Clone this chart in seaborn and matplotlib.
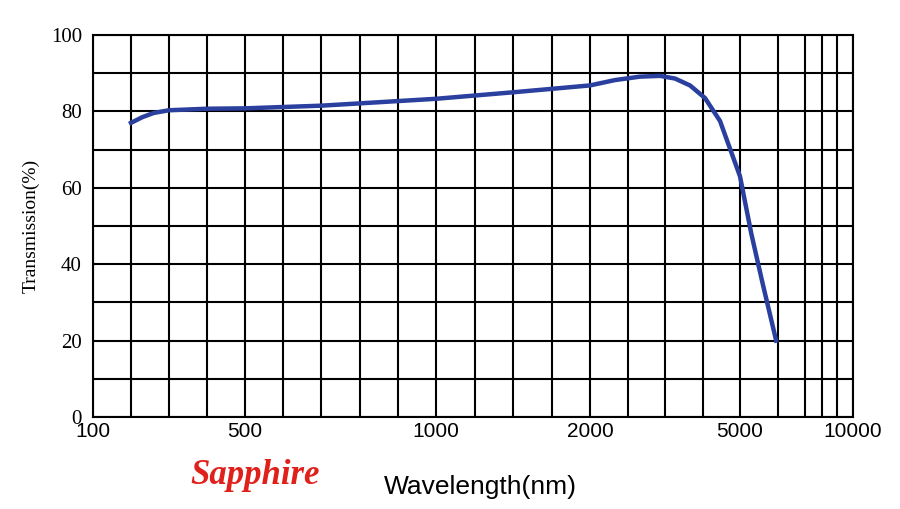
import numpy as np
import matplotlib
matplotlib.use("Agg")
import matplotlib.pyplot as plt
import seaborn as sns
import pandas as pd

# curve
wavelength = [200, 230, 260, 300, 400, 500, 700, 1000, 1500, 2000, 2500, 3000, 3400, 3700, 4000, 4300, 4600, 5000, 5500, 6000, 6600]
transmission = [77, 78.5, 79.6, 80.3, 80.7, 80.8, 81.5, 83.3, 85, 86.8, 88.2, 89.1, 89.3, 88.6, 86.8, 83.5, 77.5, 63, 48, 35, 20]
xticks = [100, 500, 1000, 2000, 5000, 10000]

# the original chart uses an uneven, piecewise axis
knot_wl = np.array([100, 500, 1000, 2000, 5000, 10000], float)
knot_pos = np.array([93, 245, 436, 590, 740, 853], float)
fwd = lambda v: np.interp(v, knot_wl, knot_pos)
inv = lambda p: np.interp(p, knot_pos, knot_wl)

df = pd.DataFrame({"wl": wavelength, "t": transmission})

fig = plt.figure(figsize=(9, 5.09), dpi=100)
ax = fig.add_axes([93/900, 1-417/509, 760/900, 382/509])
ax.set_xscale("function", functions=(fwd, inv))
sns.lineplot(data=df, x="wl", y="t", ax=ax, color="#2a3f9e", linewidth=3.2)

ax.set_xlim(100, 10000)
ax.set_ylim(0, 100)
ax.set_xticks(xticks)
ax.set_xticklabels([str(v) for v in xticks], fontfamily="Liberation Sans", fontsize=15)
minor_pos = (list(np.linspace(93, 245, 5)) + list(np.linspace(245, 436, 6)) +
             list(np.linspace(436, 590, 5)) + list(np.linspace(590, 740, 5)) + [778, 805, 822, 837])
ax.set_xticks(inv(np.array(minor_pos)), minor=True)
ax.set_yticks(range(0, 101, 20))
ax.set_yticks(range(0, 101, 10), minor=True)
ax.set_yticklabels([str(v) for v in range(0, 101, 20)], fontfamily="Liberation Serif", fontsize=15)
ax.grid(True, which="both", color="black", linewidth=1.5)
ax.tick_params(which="both", length=0)
ax.tick_params(axis="y", pad=8)
for s in ax.spines.values():
    s.set_linewidth(1.5)
ax.set_xlabel("")
ax.set_ylabel("Transmission(%)", fontfamily="Liberation Serif", fontsize=14, labelpad=8)
fig.text(480/900, 1-487/509, "Wavelength(nm)", fontfamily="Liberation Sans", fontsize=19, ha="center", va="center")
fig.text(255/900, 1-475/509, "Sapphire", fontfamily="Liberation Serif", fontsize=25,
         fontweight="bold", fontstyle="italic", color="#e0201b", ha="center", va="center")
fig.savefig("out.png", dpi=100)
